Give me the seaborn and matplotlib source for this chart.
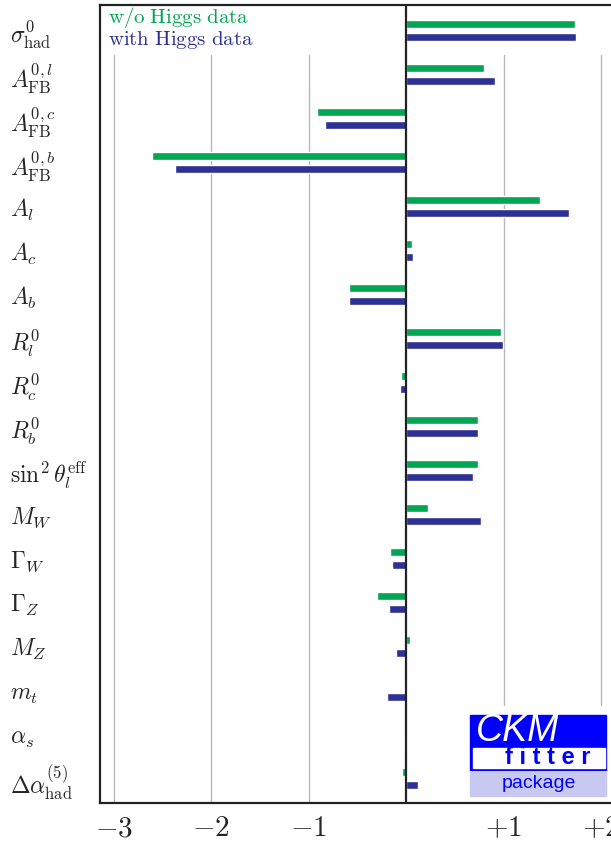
import matplotlib
matplotlib.use('Agg')
import matplotlib.pyplot as plt
from matplotlib.patches import Rectangle
import seaborn as sns
import pandas as pd

# --- DATA ---
LABELS = [r'$\sigma^0_{\rm had}$', r'$A^{0,l}_{\rm FB}$', r'$A^{0,c}_{\rm FB}$', r'$A^{0,b}_{\rm FB}$',
          r'$A_l$', r'$A_c$', r'$A_b$', r'$R^0_l$', r'$R^0_c$', r'$R^0_b$',
          r'$\sin^2\theta^{\rm eff}_l$', r'$M_W$', r'$\Gamma_W$', r'$\Gamma_Z$', r'$M_Z$',
          r'$m_t$', r'$\alpha_s$', r'$\Delta\alpha^{(5)}_{\rm had}$']
WO_HIGGS = [1.73, 0.80, -0.91, -2.61, 1.37, 0.06, -0.59, 0.97, -0.05, 0.74,
            0.74, 0.22, -0.17, -0.30, 0.04, -0.01, 0.005, -0.04]
WITH_HIGGS = [1.74, 0.91, -0.83, -2.37, 1.67, 0.07, -0.59, 0.99, -0.06, 0.74,
              0.68, 0.77, -0.15, -0.18, -0.10, -0.20, 0.005, 0.12]
SERIES = ['w/o Higgs data', 'with Higgs data']
COLORS = ['#00A651', '#2E3192']
XTICKS = [-3, -2, -1, 1, 2]
XTICKLABELS = [r'$-3$', r'$-2$', r'$-1$', r'$+1$', r'$+2$']

W, H = 611, 844

def fx(px):
    return px / W

def fy(py):
    return 1 - py / H

def make_plot():
    sns.set_style('white')
    plt.rcParams['mathtext.fontset'] = 'cm'
    plt.rcParams['font.family'] = ['DejaVu Sans']

    df = pd.DataFrame({
        'param': LABELS * 2,
        'pull': WO_HIGGS + WITH_HIGGS,
        'series': [SERIES[0]] * len(LABELS) + [SERIES[1]] * len(LABELS),
    })

    fig = plt.figure(figsize=(W / 100, H / 100), dpi=100)
    ax = fig.add_axes([fx(100), fy(803), fx(611) - fx(100), fy(5) - fy(803)])

    # gridlines first so bars sit on top
    for x in XTICKS:
        ymin = 0.123 if x > 0 else 0.0
        ax.axvline(x, ymin=ymin, ymax=0.937, color='#b8b8b8', lw=1.0, zorder=0)
    ax.axvline(0, color='#222222', lw=1.6, zorder=3)

    sns.barplot(data=df, x='pull', y='param', hue='series', orient='h',
                palette=COLORS, width=0.59, gap=0.38, saturation=1,
                legend=False, ax=ax, zorder=2)

    ax.set_xlim(-3.14, 2.1)
    ax.set_ylim(17.55, -0.59)
    ax.set_xticks(XTICKS)
    ax.set_xticklabels(XTICKLABELS, fontsize=21)
    ax.set_yticks(range(len(LABELS)))
    ax.set_yticklabels(LABELS, fontsize=17)
    ax.tick_params(axis='x', length=0, pad=8)
    ax.tick_params(axis='y', length=0, pad=65)  # left-aligned labels start near x=10px
    for lbl in ax.get_yticklabels():
        lbl.set_horizontalalignment('left')
    ax.set_xlabel('')
    ax.set_ylabel('')
    for s in ax.spines.values():
        s.set_color('#222222')
        s.set_linewidth(1.6)
    ax.spines['right'].set_visible(False)  # frame runs off the image edge

    # legend as coloured text
    ax.text(-3.06, -0.3, r'$\mathrm{w/o\ Higgs\ data}$', color=COLORS[0], fontsize=15, va='center')
    ax.text(-3.06, 0.2, r'$\mathrm{with\ Higgs\ data}$', color=COLORS[1], fontsize=15, va='center')

    # CKMfitter logo
    fig.patches.append(Rectangle((fx(470), fy(770)), fx(606) - fx(470), fy(715) - fy(770),
                                 transform=fig.transFigure, color='#0000ff', zorder=5))
    fig.patches.append(Rectangle((fx(473), fy(767.5)), fx(604.5) - fx(473), fy(748) - fy(767.5),
                                 transform=fig.transFigure, color='white', zorder=6))
    fig.patches.append(Rectangle((fx(470), fy(796)), fx(606) - fx(470), fy(772) - fy(796),
                                 transform=fig.transFigure, color='#c8c8f0', zorder=5))
    fig.text(fx(476), fy(731), 'CKM', color='white', fontsize=27, style='italic',
             family='Liberation Sans', va='center', zorder=7)
    fig.text(fx(548), fy(758), 'f i t t e r', color='#0000ff', fontsize=17, weight='bold',
             family='Liberation Sans', va='center', ha='center', zorder=7)
    fig.text(fx(539), fy(784), 'package', color='#0000ff', fontsize=14,
             family='Liberation Sans', va='center', ha='center', zorder=7)

    plt.savefig('out.png', dpi=100)

if __name__ == "__main__":
    make_plot()
